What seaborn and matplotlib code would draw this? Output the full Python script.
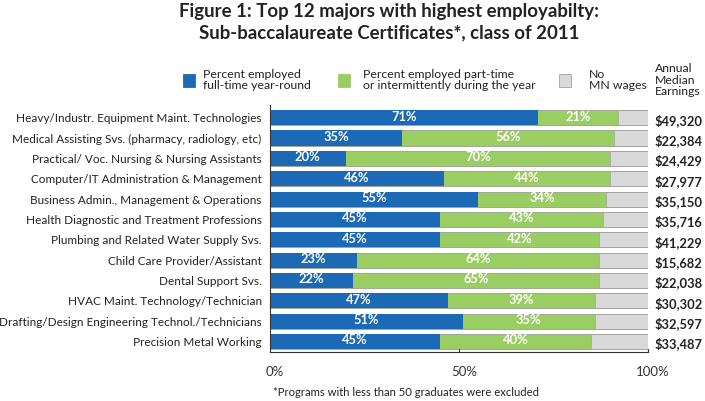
import matplotlib.pyplot as plt
import matplotlib.transforms as mtransforms
import seaborn as sns
import pandas as pd
from matplotlib.patches import Rectangle

majors = [
    "Heavy/Industr. Equipment Maint. Technologies",
    "Medical Assisting Svs. (pharmacy, radiology, etc)",
    "Practical/ Voc. Nursing & Nursing Assistants",
    "Computer/IT Administration & Management",
    "Business Admin., Management & Operations",
    "Health Diagnostic and Treatment Professions",
    "Plumbing and Related Water Supply Svs.",
    "Child Care Provider/Assistant",
    "Dental Support Svs.",
    "HVAC Maint. Technology/Technician",
    "Drafting/Design Engineering Technol./Technicians",
    "Precision Metal Working",
]
full_time = [71, 35, 20, 46, 55, 45, 45, 23, 22, 47, 51, 45]
part_time = [21, 56, 70, 44, 34, 43, 42, 64, 65, 39, 35, 40]
earnings = ["$49,320", "$22,384", "$24,429", "$27,977", "$35,150", "$35,716",
            "$41,229", "$15,682", "$22,038", "$30,302", "$32,597", "$33,487"]

df = pd.DataFrame({"major": majors, "full": full_time, "part": part_time})
df["no_wage"] = 100 - df["full"] - df["part"]
df["cum_part"] = df["full"] + df["part"]
df["total"] = df["cum_part"] + df["no_wage"]

BLUE = "#1c6ab5"
GREEN = "#9acd62"
GRAY = "#d9d9d9"
EDGE = "#a3a3a3"
TXT = "#222222"

sns.set_theme(style="white")
plt.rcParams['font.family'] = ['Lato', 'DejaVu Sans']

fig = plt.figure(figsize=(7.05, 4.01), dpi=100)
ax = fig.add_axes([0.383, 0.122, 0.536, 0.616])

sns.barplot(data=df, x="total", y="major", color=GRAY, orient="h", width=0.74,
            edgecolor=EDGE, linewidth=0.7, ax=ax, saturation=1)
sns.barplot(data=df, x="cum_part", y="major", color=GREEN, orient="h", width=0.74,
            edgecolor=EDGE, linewidth=0.5, ax=ax, saturation=1)
sns.barplot(data=df, x="full", y="major", color=BLUE, orient="h", width=0.74,
            linewidth=0, ax=ax, saturation=1)

for i, row in df.iterrows():
    ax.text(row["full"] / 2, i - 0.05, f"{row['full']}%", ha="center", va="center",
            color="white", fontsize=9.3, fontweight="bold")
    ax.text(row["full"] + row["part"] / 2, i - 0.05, f"{row['part']}%", ha="center",
            va="center", color="white", fontsize=9.3, fontweight="bold")
    ax.text(101.8, i + 0.12, earnings[i], ha="left", va="center", color=TXT,
            fontsize=9.3, fontweight="bold")

ax.set_xlim(0, 100)
ax.set_ylim(11.52, -0.62)
ax.set_xticks([0, 50, 100])
ax.set_xticklabels(["0%", "50%", "100%"], fontsize=9.5, color="#333333")
ax.tick_params(axis="x", length=0, pad=10)
ax.tick_params(axis="y", length=0, pad=6)
shift = mtransforms.ScaledTranslation(5 / 100, 0, fig.dpi_scale_trans)
for lab in ax.get_xticklabels():
    lab.set_transform(lab.get_transform() + shift)
ax.set_yticks(range(len(majors)))
ax.set_yticklabels(majors, fontsize=8.5, color=TXT)
ax.set_xlabel("")
ax.set_ylabel("")
for s in ["top", "right"]:
    ax.spines[s].set_visible(False)
for s in ["left", "bottom"]:
    ax.spines[s].set_color("#333333")
    ax.spines[s].set_linewidth(0.8)
ax.plot([50, 50], [11.52, 11.38], color="#333333", lw=0.8, clip_on=False)
ax.plot([100, 100], [11.52, 11.38], color="#333333", lw=0.8, clip_on=False)

fig.text(0.552, 0.958, "Figure 1: Top 12 majors with highest employabilty:",
         ha="center", va="baseline", fontsize=13.4, fontweight="bold", color=TXT)
fig.text(0.552, 0.905, "Sub-baccalaureate Certificates*, class of 2011",
         ha="center", va="baseline", fontsize=13.4, fontweight="bold", color=TXT)

# legend
legend_items = [
    (0.2596, BLUE, "Percent employed\nfull-time year-round", 0.288),
    (0.4794, GREEN, "Percent employed part-time\nor intermittently during the year", 0.515),
    (0.793, GRAY, "No\nMN wages", 0.835),
]
for x0, col, label, tx in legend_items:
    fig.patches.append(Rectangle((x0, 0.783), 0.0165, 0.032, transform=fig.transFigure,
                                 facecolor=col, edgecolor=EDGE if col == GRAY else col,
                                 linewidth=0.6))
    fig.text(tx, 0.80, label, ha="left", va="center", fontsize=8.8, color=TXT,
             linespacing=1.05)
fig.text(0.929, 0.80, "Annual\nMedian\nEarnings", ha="left", va="center",
         fontsize=8.8, color=TXT, linespacing=1.05)

fig.text(0.576, 0.02, "*Programs with less than 50 graduates were excluded",
         ha="center", va="center", fontsize=8.1, color=TXT)

fig.savefig("out.png", dpi=100, facecolor="white")
